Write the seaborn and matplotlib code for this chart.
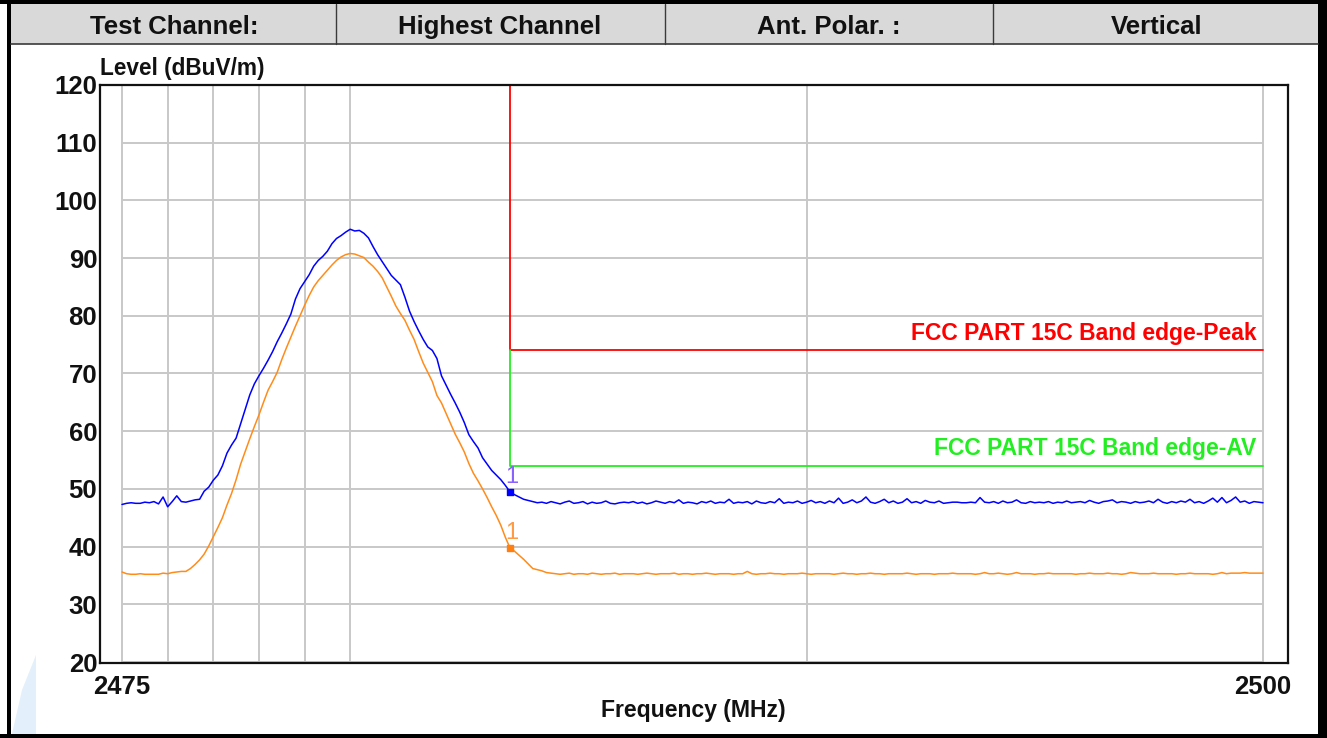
import numpy as np
import pandas as pd
import matplotlib
matplotlib.use("Agg")
import matplotlib.pyplot as plt
from matplotlib.patches import Rectangle, Polygon
import seaborn as sns

# ---------------- data ----------------
header_cells = ["Test Channel:", "Highest Channel", "Ant. Polar. :", "Vertical"]

freq_start, freq_stop, freq_step = 2475.0, 2500.0, 0.1
x_tick_labels = ["2475", "2500"]
y_ticks = [20, 30, 40, 50, 60, 70, 80, 90, 100, 110, 120]
x_grid = [2475, 2476, 2477, 2478, 2479, 2480, 2490, 2500]

peak_left = [47.3, 47.5, 47.6, 47.5, 47.5, 47.7, 47.6, 47.8, 47.4, 48.6,
             46.9, 47.8, 48.8, 47.8, 47.7, 47.9, 48.1]
peak_mid = [48.2, 49.6, 50.3,
            51.5, 52.4, 54.0, 56.2, 57.6, 58.8, 61.3, 63.8, 66.3, 68.2,
            69.6, 70.9, 72.3, 73.8, 75.5, 77.0, 78.6, 80.3, 82.9, 84.7,
            85.9, 87.1, 88.6, 89.6, 90.3, 91.2, 92.5, 93.4, 93.9, 94.5,
            95.0, 94.7, 94.8, 94.3, 93.5, 92.0, 90.6, 89.4, 88.2, 87.0,
            86.2, 85.4, 83.2, 80.8, 79.0, 77.4, 75.9, 74.6, 74.0, 72.6,
            69.6, 68.0, 66.4, 64.9, 63.3, 61.5, 59.4, 58.2, 57.1, 55.4,
            54.3, 53.2, 52.4, 51.6, 50.6, 49.5, 49.0, 48.6, 48.2, 48.0,
            47.8]
peak_right = [47.6, 47.7, 47.5, 47.8, 47.6, 47.4, 47.7, 47.9, 47.5, 47.6,
              47.8, 47.4, 47.7, 47.5, 47.6, 47.9, 47.5, 47.4, 47.6, 47.7,
              47.6, 47.8, 47.5, 47.7, 47.4, 47.6, 47.9, 47.7, 47.5, 47.8,
              47.6, 48.1, 47.5, 47.7, 47.6, 47.4, 47.8, 47.6, 47.9, 47.5,
              47.7, 47.6, 48.2, 47.5, 47.7, 47.6, 47.8, 47.4, 47.9, 47.6,
              47.5, 47.8, 47.6, 48.3, 47.5, 47.7, 47.6, 47.9, 47.5, 47.7,
              48.0, 47.6, 47.8, 47.5, 47.9, 47.6, 48.4, 47.5, 47.7, 48.1,
              47.6, 47.9, 48.6, 47.7, 47.5, 47.8, 48.2, 47.6, 47.9, 47.5,
              47.7, 48.3, 47.6, 47.8, 47.5, 48.0, 47.7, 47.6, 47.9, 47.5,
              47.6, 47.7, 47.7, 47.6, 47.6, 47.7, 47.6, 48.5, 47.7, 47.6,
              47.8, 47.5, 47.9, 47.6, 47.7, 48.1, 47.6, 47.5, 47.8, 47.6,
              47.7, 47.6, 47.8, 47.5, 47.7, 47.6, 47.9, 47.6, 47.7, 47.8,
              47.6, 48.0, 47.7, 47.5, 47.8, 47.9, 48.1, 47.6, 47.8, 47.7,
              47.5, 47.8, 47.6, 47.7, 47.9, 47.6, 48.2, 47.7, 47.5, 47.8,
              47.6, 47.9, 47.7, 48.2, 47.6, 47.8, 47.5, 47.9, 48.4, 47.7,
              48.5, 47.6, 48.0, 48.6, 47.7, 47.9, 47.5, 47.8, 47.7, 47.6]

avg_left = [35.6, 35.3, 35.2, 35.2, 35.3, 35.2, 35.2, 35.2, 35.2, 35.4,
            35.3, 35.5, 35.6, 35.7]
avg_mid = [35.7, 36.2, 36.9, 37.7, 38.7, 40.1,
           41.7, 43.3, 45.0, 47.2, 49.2, 51.6, 54.3, 56.5, 58.7, 60.8,
           62.8, 65.0, 67.1, 68.6, 70.2, 72.4, 74.4, 76.3, 78.2, 80.0,
           81.8, 83.5, 85.0, 86.1, 87.0, 87.9, 88.8, 89.6, 90.2, 90.6,
           90.8, 90.7, 90.4, 90.1, 89.3, 88.6, 87.7, 86.6, 85.0, 83.4,
           81.7, 80.4, 79.2, 77.5, 75.9, 73.8, 71.8, 70.2, 68.6, 66.2,
           64.9, 63.1, 61.3, 59.5, 58.0, 56.4, 54.4, 52.7, 51.4, 50.0,
           48.5, 46.9, 45.4, 43.7, 41.6, 39.8, 39.2, 38.5, 37.8, 37.0,
           36.2, 36.0, 35.8, 35.5, 35.4]
avg_right = [35.3, 35.2, 35.3, 35.4, 35.2, 35.3, 35.3, 35.2, 35.4, 35.3,
             35.2, 35.3, 35.3, 35.4, 35.2, 35.3, 35.3, 35.3, 35.2, 35.3,
             35.4, 35.3, 35.2, 35.3, 35.3, 35.3, 35.4, 35.2, 35.3, 35.3,
             35.2, 35.3, 35.3, 35.4, 35.3, 35.2, 35.3, 35.3, 35.3, 35.2,
             35.3, 35.3, 35.7, 35.3, 35.2, 35.3, 35.3, 35.4, 35.3, 35.3,
             35.2, 35.3, 35.3, 35.3, 35.4, 35.3, 35.2, 35.3, 35.3, 35.3,
             35.3, 35.2, 35.3, 35.4, 35.3, 35.3, 35.2, 35.3, 35.3, 35.4,
             35.3, 35.3, 35.2, 35.3, 35.3, 35.3, 35.3, 35.4, 35.3, 35.2,
             35.3, 35.3, 35.3, 35.2, 35.3, 35.3, 35.3, 35.4, 35.3, 35.3,
             35.3, 35.3, 35.2, 35.3, 35.5, 35.3, 35.3, 35.4, 35.3, 35.2,
             35.3, 35.5, 35.3, 35.3, 35.3, 35.2, 35.3, 35.3, 35.4, 35.3,
             35.3, 35.3, 35.3, 35.3, 35.2, 35.3, 35.3, 35.4, 35.3, 35.3,
             35.3, 35.4, 35.3, 35.3, 35.2, 35.3, 35.5, 35.4, 35.3, 35.3,
             35.3, 35.4, 35.3, 35.3, 35.3, 35.3, 35.2, 35.3, 35.3, 35.4,
             35.3, 35.3, 35.3, 35.3, 35.2, 35.3, 35.5, 35.3, 35.4, 35.4,
             35.4, 35.5, 35.4, 35.4, 35.4, 35.4]

marker_freq = [2483.5]
marker_peak = [49.5]
marker_avg = [39.8]
marker_label = "1"

band_edge = 2483.5
peak_limit = 74
av_limit = 54
peak_limit_label = "FCC PART 15C Band edge-Peak"
av_limit_label = "FCC PART 15C Band edge-AV"

# ---------------- build ----------------
freq = np.round(np.arange(freq_start, freq_stop + freq_step / 2, freq_step), 1)
peak = peak_left + peak_mid + peak_right
avg = avg_left + avg_mid + avg_right
df = pd.DataFrame({"freq": freq, "peak": peak, "avg": avg})

sns.set_style("white")
plt.rcParams["font.family"] = ["Liberation Sans", "DejaVu Sans"]

W, H = 1327, 738
fig = plt.figure(figsize=(W / 100, H / 100), dpi=100)

# background/overlay axes in pixel coords
bg = fig.add_axes([0, 0, 1, 1], zorder=-5)
bg.set_xlim(0, W)
bg.set_ylim(H, 0)
bg.axis("off")
# watermark
bg.add_patch(Polygon([[11, 738], [36, 738], [36, 655], [22, 690]], closed=True,
                     facecolor="#e3f0fb", edgecolor="none"))

over = fig.add_axes([0, 0, 1, 1], zorder=5)
over.set_xlim(0, W)
over.set_ylim(H, 0)
over.axis("off")
over.patch.set_alpha(0)
# header
over.add_patch(Rectangle((11, 4), 1307, 40, facecolor="#d9d9d9", edgecolor="none"))
over.plot([11, 1318], [44, 44], color="#3a3a3a", lw=1.2)
for xd in [336, 665, 993]:
    over.plot([xd, xd], [4, 44], color="#3a3a3a", lw=1.0)
centers = [174, 500, 829, 1157]
for cx, txt in zip(centers, header_cells):
    over.text(cx, 27, txt, ha="center", va="center", fontsize=18.5,
              fontweight="bold", color="#111111")
# frame
over.add_patch(Rectangle((0, 0), W, 4, facecolor="black", edgecolor="none"))
over.add_patch(Rectangle((7, 0), 4, H, facecolor="black", edgecolor="none"))
over.add_patch(Rectangle((1318, 0), 9, H, facecolor="black", edgecolor="none"))
over.add_patch(Rectangle((0, 734), W, 4, facecolor="black", edgecolor="none"))

# main plot axes
px_per_mhz = (1263 - 122) / 25.0
px_per_db = (662 - 85) / 100.0
xl = freq_start - 22 / px_per_mhz
xr = freq_stop + 25 / px_per_mhz
yb = 20 - 1 / px_per_db
ax = fig.add_axes([100 / W, 1 - 663 / H, (1288 - 100) / W, (663 - 85) / H])
ax.set_xlim(xl, xr)
ax.set_ylim(yb, 120)

grid_c = "#c8c8c8"
ax.hlines(y_ticks, freq_start, freq_stop, color=grid_c, lw=1.4, zorder=1)
ax.vlines(x_grid, 20, 120, color=grid_c, lw=1.4, zorder=1)

sns.lineplot(data=df, x="freq", y="peak", ax=ax, color="#0000ff", lw=1.1, zorder=4)
sns.lineplot(data=df, x="freq", y="avg", ax=ax, color="#ff8c1a", lw=1.1, zorder=3)

# limit lines
ax.plot([band_edge, band_edge, freq_stop], [120, peak_limit, peak_limit],
        color="#ff0000", lw=1.3, zorder=2)
ax.plot([band_edge, band_edge, freq_stop], [peak_limit, av_limit, av_limit],
        color="#22ee22", lw=1.3, zorder=2)
ax.text(freq_stop - 0.15, peak_limit + 1.0, peak_limit_label, ha="right", va="bottom",
        fontsize=16.5, fontweight="bold", color="#ff0000")
ax.text(freq_stop - 0.15, av_limit + 1.0, av_limit_label, ha="right", va="bottom",
        fontsize=16.5, fontweight="bold", color="#22ee22")

# markers
ax.scatter(marker_freq, marker_peak, marker="s", s=22, color="#0000ff", zorder=6)
ax.scatter(marker_freq, marker_avg, marker="s", s=22, color="#ff7f10", zorder=6)
for f, v in zip(marker_freq, marker_peak):
    ax.text(f + 0.05, v + 0.6, marker_label, ha="center", va="bottom", fontsize=17,
            color="#8a63ff")
for f, v in zip(marker_freq, marker_avg):
    ax.text(f + 0.05, v + 0.6, marker_label, ha="center", va="bottom", fontsize=17,
            color="#ff9a45")

ax.set_xticks([freq_start, freq_stop])
ax.set_xticklabels(x_tick_labels)
ax.set_yticks(y_ticks)
ax.set_yticklabels([str(t) for t in y_ticks])
ax.tick_params(axis="both", length=0, labelsize=18.5, colors="#111111")
ax.tick_params(axis="y", pad=2)
ax.tick_params(axis="x", pad=9)
for lab in ax.get_xticklabels() + ax.get_yticklabels():
    lab.set_fontweight("bold")
ax.set_xlabel("")
ax.set_ylabel("")
for s in ax.spines.values():
    s.set_color("#111111")
    s.set_linewidth(1.6)
    s.set_visible(True)

fig.text(100 / W, 1 - 68 / H, "Level (dBuV/m)", ha="left", va="center",
         fontsize=16.3, fontweight="bold", color="#111111")
fig.text(693 / W, 1 - 710 / H, "Frequency (MHz)", ha="center", va="center",
         fontsize=16.6, fontweight="bold", color="#111111")

fig.savefig("out.png", dpi=100)
